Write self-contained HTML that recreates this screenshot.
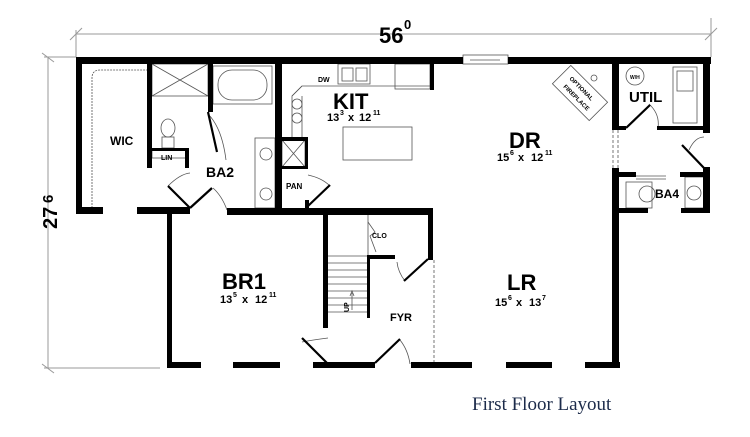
<!DOCTYPE html>
<html><head><meta charset="utf-8"><style>
html,body{margin:0;padding:0;background:#fff;}
svg{display:block;}
text{font-family:"Liberation Sans",sans-serif;font-weight:bold;fill:#000;}
</style></head><body>
<svg width="750" height="437" viewBox="0 0 750 437" xmlns="http://www.w3.org/2000/svg">
<!-- dimension lines -->
<g stroke="#999" stroke-width="1" fill="none">
<line x1="76" y1="34" x2="711" y2="34"/>
<line x1="70" y1="40" x2="82" y2="28"/><line x1="705" y1="40" x2="717" y2="28"/>
<line x1="76" y1="30" x2="76" y2="57"/><line x1="711" y1="18" x2="711" y2="57"/>
<line x1="48" y1="57" x2="48" y2="368"/>
<line x1="42" y1="53" x2="54" y2="62"/><line x1="42" y1="364" x2="54" y2="373"/>
<line x1="44" y1="57" x2="76" y2="57"/><line x1="44" y1="368" x2="160" y2="368"/>
</g>
<text x="379" y="43" font-size="22">56</text><text x="404" y="29" font-size="13">0</text>
<text transform="translate(57,229) rotate(-90)" font-size="20">27</text>
<text transform="translate(53,203) rotate(-90)" font-size="15">6</text>

<!-- fixtures (thin lines) -->
<g stroke="#555" stroke-width="0.8" fill="none">
<path d="M92 208 V78 Q92 70 100 70 H147" stroke-dasharray="2 1"/>
<rect x="152" y="64" width="56" height="32"/><path d="M152 64 L180 80 L208 64 M152 96 L180 80 L208 96"/>
<ellipse cx="168" cy="128" rx="7" ry="9"/><rect x="162" y="137" width="12" height="11"/>
<rect x="152" y="149" width="36" height="9"/>
<rect x="213" y="66" width="59" height="38"/><rect x="218" y="70" width="49" height="30" rx="14"/>
<rect x="255" y="138" width="20" height="70"/><circle cx="266" cy="154" r="6"/><circle cx="266" cy="194" r="6"/>
<path d="M430 86 H302 L292 96 V140 H302 V96"/><path d="M292 96 L302 86"/>
<rect x="338" y="64" width="32" height="20"/><rect x="342" y="68" width="11" height="13"/><rect x="356" y="68" width="11" height="13"/>
<rect x="395" y="64" width="35" height="25"/>
<circle cx="297" cy="104" r="5"/><circle cx="297" cy="118" r="5"/>
<rect x="343" y="127" width="69" height="33"/>
<rect x="282" y="140" width="23" height="27"/><path d="M282 140 L305 167 M305 140 L282 167"/>
<path d="M368 214 V260 M328 256 H367 M328 263 H367 M328 270 H367 M328 277 H367 M328 284 H367 M328 291 H367 M328 298 H367 M328 305 H367 M328 312 H367"/>
<path d="M368 222 L375 232 L370 236 L376 252"/>
<path d="M352 310 V293 M350 296 L352 291 L354 296"/>
<line x1="434" y1="260" x2="434" y2="363" stroke-dasharray="3 2"/>
<line x1="613" y1="130" x2="613" y2="168" stroke-dasharray="3 2"/><line x1="618" y1="130" x2="618" y2="168" stroke-dasharray="3 2"/>
<g transform="translate(580,93) rotate(45)"><rect x="-26" y="-13" width="52" height="26"/></g>
<circle cx="594" cy="78" r="3"/>
<circle cx="635" cy="76" r="9"/><rect x="673" y="67" width="24" height="56"/><rect x="677" y="71" width="16" height="20"/>
<rect x="626" y="182" width="26" height="26"/><ellipse cx="647" cy="194" rx="8" ry="8"/>
<rect x="685" y="177" width="19" height="31"/><circle cx="694" cy="193" r="7"/>
<path d="M636 176 H666 M636 179 H666"/>
<!-- door arcs -->
<path d="M208 114 Q222 128 226 160"/><path d="M168 186 Q180 174 190 173"/><path d="M227 210 Q222 196 213 188"/>
<path d="M308 175 Q322 178 330 186"/><path d="M328 338 Q312 340 302 342"/><path d="M400 340 Q408 350 410 364"/>
<path d="M405 281 Q398 272 397 262"/><path d="M649 104 Q660 114 658 128"/><path d="M689 150 Q695 137 704 137"/>
<rect x="463" y="55" width="45" height="9"/><line x1="470" y1="60" x2="500" y2="60"/>
</g>
<!-- door leaves -->
<g stroke="#000" stroke-width="2.2">
<line x1="208" y1="112" x2="217" y2="152"/><line x1="168" y1="186" x2="190" y2="208"/>
<line x1="190" y1="208" x2="212" y2="188"/><line x1="308" y1="206" x2="330" y2="185"/>
<line x1="328" y1="364" x2="302" y2="338"/><line x1="375" y1="363" x2="400" y2="339"/>
<line x1="428" y1="259" x2="404" y2="281"/><line x1="626" y1="128" x2="650" y2="105"/>
<line x1="704" y1="168" x2="682" y2="145"/>
</g>
<!-- walls -->
<g fill="#000">
<rect x="76" y="57" width="387" height="7"/><rect x="508" y="57" width="203" height="7"/>
<rect x="76" y="57" width="6" height="156"/>
<rect x="76" y="207" width="27" height="7"/><rect x="137" y="207" width="53" height="7"/>
<rect x="227" y="208" width="206" height="7"/>
<rect x="147" y="57" width="5" height="111"/><rect x="152" y="148" width="36" height="3"/>
<rect x="185" y="148" width="4" height="20"/>
<rect x="208" y="57" width="5" height="55"/>
<rect x="275" y="57" width="7" height="156"/>
<rect x="282" y="137" width="26" height="4"/><rect x="305" y="137" width="3" height="32"/><rect x="282" y="166" width="26" height="3"/>
<rect x="305" y="200" width="4" height="10"/>
<rect x="430" y="57" width="4" height="33"/>
<rect x="167" y="208" width="5" height="160"/>
<rect x="323" y="213" width="5" height="115"/>
<rect x="367" y="255" width="28" height="4"/><rect x="367" y="255" width="3" height="63"/>
<rect x="428" y="213" width="5" height="47"/>
<rect x="167" y="362" width="34" height="6"/><rect x="233" y="362" width="47" height="6"/>
<rect x="313" y="362" width="62" height="6"/><rect x="411" y="362" width="61" height="6"/>
<rect x="506" y="362" width="46" height="6"/><rect x="585" y="362" width="35" height="6"/>
<rect x="612" y="57" width="7" height="73"/><rect x="612" y="168" width="7" height="200"/>
<rect x="703" y="57" width="7" height="76"/><rect x="703" y="167" width="7" height="46"/>
<rect x="619" y="126" width="7" height="4"/><rect x="657" y="126" width="53" height="4"/>
<rect x="619" y="172" width="17" height="5"/><rect x="680" y="172" width="24" height="5"/>
<rect x="619" y="208" width="29" height="5"/><rect x="681" y="208" width="29" height="5"/>
</g>
<!-- labels -->
<text x="110" y="145" font-size="12">WIC</text>
<text x="161" y="160" font-size="7" font-weight="normal">LIN</text>
<text x="206" y="177" font-size="14">BA2</text>
<text x="318" y="82" font-size="7" font-weight="normal">DW</text>
<text x="333" y="109" font-size="22">KIT</text>
<text x="327" y="121" font-size="11">13</text><text x="340" y="115" font-size="7">3</text><text x="348" y="121" font-size="11">x</text><text x="359" y="121" font-size="11">12</text><text x="373" y="115" font-size="7">11</text>
<text x="286" y="189" font-size="8">PAN</text>
<text x="509" y="148" font-size="22">DR</text>
<text x="497" y="161" font-size="11">15</text><text x="510" y="155" font-size="7">6</text><text x="518" y="161" font-size="11">x</text><text x="531" y="161" font-size="11">12</text><text x="545" y="155" font-size="7">11</text>
<text transform="translate(569,79) rotate(45)" font-size="6">OPTIONAL</text>
<text transform="translate(563,87) rotate(45)" font-size="6">FIREPLACE</text>
<text x="630" y="79" font-size="5" font-weight="normal">W/H</text>
<text x="629" y="102" font-size="15">UTIL</text>
<text x="655" y="198" font-size="12">BA4</text>
<text x="372" y="238" font-size="7">CLO</text>
<text x="222" y="289" font-size="22">BR1</text>
<text x="220" y="303" font-size="11">13</text><text x="233" y="297" font-size="7">5</text><text x="242" y="303" font-size="11">x</text><text x="255" y="303" font-size="11">12</text><text x="269" y="297" font-size="7">11</text>
<text transform="translate(349,312) rotate(-90)" font-size="7" font-weight="normal">UP</text>
<text x="390" y="321" font-size="11">FYR</text>
<text x="507" y="290" font-size="22">LR</text>
<text x="495" y="306" font-size="11">15</text><text x="508" y="300" font-size="7">6</text><text x="516" y="306" font-size="11">x</text><text x="529" y="306" font-size="11">13</text><text x="542" y="300" font-size="7">7</text>
<text x="472" y="410" font-size="19" style="font-family:'Liberation Serif',serif;font-weight:normal;fill:#1c2b4a">First Floor Layout</text>
</svg>
</body></html>
